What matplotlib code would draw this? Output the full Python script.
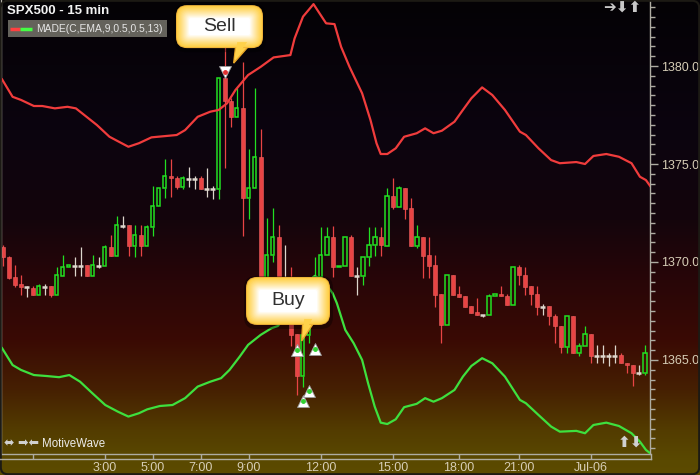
import numpy as np
import pandas as pd
import matplotlib
matplotlib.use("Agg")
import matplotlib.pyplot as plt
from matplotlib.patches import FancyBboxPatch, Polygon, Rectangle
from matplotlib.ticker import MultipleLocator

plt.rcParams['font.family'] = ['Liberation Sans', 'DejaVu Sans']

# 15 min bars, SPX500
opens = [1370.77, 1370.26, 1369.23, 1368.88, 1368.74, 1368.67, 1368.33, 1368.74, 1368.78, 1368.33,
         1369.30, 1369.73, 1369.81, 1369.81, 1369.83, 1369.30, 1369.81, 1369.81, 1370.75, 1370.32,
         1371.84, 1371.87, 1370.83, 1371.36, 1370.83, 1371.77, 1372.84, 1373.76, 1374.37, 1374.27,
         1373.83, 1374.23, 1374.23, 1374.27, 1373.72, 1373.72, 1373.74, 1379.37, 1378.23, 1377.38,
         1377.84, 1373.25, 1373.76, 1375.34, 1368.06, 1370.34, 1371.28, 1368.06, 1367.81, 1366.33,
         1364.20, 1366.28, 1367.55, 1369.23, 1370.34, 1371.26, 1369.73, 1369.81, 1371.28, 1369.30,
         1369.30, 1370.24, 1370.85, 1371.26, 1370.83, 1373.35, 1372.82, 1373.76, 1372.74, 1370.83,
         1371.26, 1370.34, 1369.83, 1368.35, 1366.80, 1369.32, 1368.35, 1368.25, 1367.74, 1367.43,
         1367.31, 1367.31, 1368.25, 1368.35, 1368.25, 1367.82, 1369.73, 1369.32, 1368.76, 1368.37,
         1367.70, 1367.74, 1367.23, 1366.73, 1365.65, 1367.23, 1365.34, 1365.73, 1366.31, 1365.22,
         1365.22, 1365.22, 1365.22, 1365.24, 1364.83, 1364.73, 1364.32, 1364.32]
highs = [1370.87, 1370.30, 1369.85, 1369.34, 1368.78, 1368.78, 1368.88, 1368.88, 1368.78, 1369.76,
         1370.36, 1369.83, 1370.26, 1370.77, 1369.83, 1370.36, 1370.26, 1370.87, 1371.38, 1372.35,
         1372.35, 1371.87, 1371.87, 1371.87, 1371.87, 1373.86, 1373.76, 1375.26, 1375.26, 1374.37,
         1374.37, 1374.85, 1374.37, 1374.37, 1374.78, 1373.86, 1379.37, 1381.00, 1378.35, 1378.86,
         1380.20, 1375.75, 1378.86, 1376.79, 1372.24, 1372.76, 1371.89, 1370.87, 1369.76, 1366.33,
         1366.28, 1367.55, 1370.26, 1371.79, 1371.79, 1371.85, 1369.81, 1371.28, 1371.38, 1369.74,
         1370.24, 1371.79, 1371.79, 1371.79, 1373.78, 1374.29, 1373.88, 1373.76, 1373.27, 1371.89,
         1371.26, 1371.26, 1370.34, 1368.35, 1369.32, 1369.32, 1368.78, 1368.25, 1367.74, 1368.16,
         1367.31, 1368.35, 1368.35, 1368.78, 1368.35, 1369.73, 1369.83, 1369.73, 1368.76, 1368.78,
         1367.86, 1367.74, 1367.35, 1366.73, 1367.23, 1367.23, 1365.85, 1366.73, 1366.31, 1365.75,
         1365.75, 1365.34, 1365.75, 1365.34, 1364.83, 1364.73, 1364.73, 1365.75]
lows = [1369.80, 1369.15, 1368.72, 1368.32, 1368.23, 1368.33, 1368.33, 1368.33, 1368.23, 1368.33,
        1369.30, 1369.73, 1369.30, 1369.30, 1369.30, 1369.30, 1369.71, 1369.81, 1370.32, 1370.32,
        1371.73, 1370.32, 1370.24, 1370.32, 1370.83, 1371.34, 1372.84, 1373.25, 1373.33, 1373.72,
        1373.72, 1373.83, 1373.72, 1373.72, 1373.32, 1373.21, 1373.21, 1374.81, 1376.87, 1377.38,
        1371.34, 1372.21, 1373.76, 1367.81, 1367.81, 1370.00, 1368.32, 1367.55, 1365.71, 1363.21,
        1363.62, 1365.85, 1367.55, 1369.23, 1370.34, 1369.22, 1369.73, 1369.81, 1369.30, 1368.32,
        1368.83, 1369.81, 1370.32, 1370.32, 1370.83, 1372.72, 1372.82, 1372.21, 1370.83, 1370.73,
        1369.20, 1369.20, 1367.72, 1365.85, 1366.80, 1368.32, 1368.21, 1367.72, 1367.41, 1367.31,
        1367.21, 1367.31, 1368.25, 1368.25, 1367.82, 1367.82, 1368.83, 1368.32, 1367.81, 1367.30,
        1367.30, 1366.79, 1365.85, 1365.34, 1365.34, 1365.34, 1365.22, 1365.73, 1364.83, 1364.83,
        1364.83, 1364.71, 1364.83, 1364.83, 1364.32, 1363.69, 1364.22, 1364.22]
closes = [1370.24, 1369.20, 1368.83, 1368.74, 1368.74, 1368.33, 1368.78, 1368.74, 1368.33, 1369.32,
          1369.73, 1369.83, 1369.81, 1369.81, 1369.30, 1369.83, 1369.81, 1370.75, 1370.32, 1371.87,
          1371.84, 1370.83, 1371.36, 1370.83, 1371.77, 1372.84, 1373.76, 1374.37, 1374.27, 1373.83,
          1374.27, 1374.23, 1374.23, 1373.72, 1373.72, 1373.72, 1379.37, 1378.23, 1377.38, 1377.84,
          1373.25, 1373.76, 1375.34, 1368.06, 1370.34, 1371.28, 1368.57, 1368.06, 1366.28, 1364.20,
          1366.28, 1367.55, 1369.23, 1370.34, 1371.28, 1369.73, 1369.81, 1371.28, 1369.30, 1369.30,
          1370.24, 1370.85, 1371.26, 1370.85, 1373.35, 1372.82, 1373.76, 1372.72, 1370.83, 1371.26,
          1370.32, 1369.81, 1368.32, 1366.80, 1369.32, 1368.32, 1368.21, 1367.72, 1367.41, 1367.31,
          1367.31, 1368.25, 1368.35, 1368.25, 1367.82, 1369.73, 1369.32, 1368.74, 1368.35, 1367.72,
          1367.70, 1367.23, 1366.73, 1365.65, 1367.23, 1365.34, 1365.73, 1366.31, 1365.22, 1365.22,
          1365.22, 1365.22, 1365.22, 1364.83, 1364.73, 1364.32, 1364.32, 1365.34]

# MADE envelope (upper / lower)
upper_x = [-0.1, 1.65, 3.05, 5.2, 6.6, 8.7, 10.8, 12.2, 13.6, 15.7, 17.8, 20.95, 22.7, 24.8, 29.0,
           30.4, 32.5, 34.6, 36.0, 37.4, 38.8, 40.9, 43.0, 45.15, 47.95, 48.65, 50.05, 51.8, 53.9,
           55.3, 56.4, 57.8, 59.9, 61.3, 62.3, 63.0, 64.1, 65.5, 66.9, 69.0, 70.4, 71.8, 73.2, 75.3,
           76.7, 78.1, 79.9, 81.6, 83.7, 86.2, 87.2, 89.3, 91.4, 92.85, 95.6, 97.05, 98.45, 100.6,
           102.7, 104.8, 106.2, 107.2, 107.9]
upper_band = [1379.32, 1378.43, 1378.27, 1377.96, 1377.96, 1377.84, 1377.92, 1377.84, 1377.50,
              1376.99, 1376.39, 1375.88, 1376.06, 1376.36, 1376.48, 1376.73, 1377.41, 1377.67,
              1377.76, 1378.10, 1378.78, 1379.54, 1379.96, 1380.44, 1380.56, 1381.41, 1382.52,
              1383.16, 1382.18, 1382.14, 1380.98, 1379.96, 1378.61, 1377.24, 1376.06, 1375.51,
              1375.51, 1375.80, 1376.39, 1376.57, 1376.82, 1376.57, 1376.70, 1377.16, 1377.76,
              1378.35, 1378.91, 1378.52, 1377.76, 1376.65, 1376.48, 1375.80, 1375.20, 1375.04,
              1375.10, 1375.00, 1375.41, 1375.51, 1375.37, 1375.04, 1374.35, 1374.18, 1373.88]
lower_x = [-0.1, 1.65, 3.05, 5.2, 7.3, 9.4, 11.1, 12.9, 14.95, 17.1, 19.2, 20.95, 22.7, 24.1, 26.2,
           28.3, 30.4, 32.5, 34.6, 36.4, 37.8, 39.5, 40.9, 43.0, 44.8, 45.85, 48.0, 50.5, 52.0,
           53.5, 55.0, 55.7, 57.1, 58.5, 59.9, 60.9, 62.0, 63.0, 64.1, 65.5, 66.9, 69.0, 70.4,
           71.8, 73.2, 75.3, 76.7, 78.1, 79.9, 81.6, 83.7, 86.2, 87.2, 89.3, 91.4, 92.85, 95.6,
           97.05, 98.45, 100.6, 102.7, 104.8, 106.2, 107.2, 107.9]
lower_band = [1365.60, 1364.74, 1364.49, 1364.23, 1364.18, 1364.12, 1364.23, 1363.89, 1363.30,
              1362.70, 1362.36, 1362.11, 1362.28, 1362.48, 1362.65, 1362.70, 1363.05, 1363.64,
              1363.89, 1364.07, 1364.49, 1365.17, 1365.77, 1366.28, 1366.62, 1366.73, 1367.55,
              1368.83, 1369.29, 1369.03, 1368.40, 1367.89, 1366.53, 1365.85, 1365.00, 1363.81,
              1362.62, 1361.80, 1361.73, 1361.97, 1362.59, 1362.76, 1363.05, 1362.87, 1363.05,
              1363.47, 1364.15, 1364.69, 1365.09, 1364.83, 1364.15, 1362.96, 1362.79, 1362.19,
              1361.60, 1361.34, 1361.38, 1361.26, 1361.68, 1361.80, 1361.63, 1361.26, 1360.83,
              1360.41, 1360.24]

# signals
sell_idx = [37]
sell_price = [1379.69]
buy_idx = [49, 50, 51, 52]
buy_price = [1365.51, 1362.92, 1363.42, 1365.58]

time_ticks = [5, 17, 25, 33, 41, 53, 65, 76, 86, 98]
time_labels = ["", "3:00", "5:00", "7:00", "9:00", "12:00", "15:00", "18:00", "21:00", "Jul-06"]
price_ticks = [1365, 1370, 1375, 1380]

RED = "#e84444"
GREEN = "#22e022"
DOJI = "#ddd6cc"
AXCOL = "#aeaca2"
LBL = "#d6cdb6"

bars = pd.DataFrame({"open": opens, "high": highs, "low": lows, "close": closes})
bars["idx"] = np.arange(len(bars))

W, H = 700, 475
fig = plt.figure(figsize=(7, 4.75), dpi=100)

# background gradient (black -> dark red -> olive)
stop_y = [0, 130, 220, 280, 340, 390, 430, 460, 475]
stop_rgb = np.array([[4, 2, 5], [11, 4, 15], [20, 5, 12], [40, 6, 8], [58, 10, 4],
                     [70, 32, 2], [83, 60, 0], [90, 73, 0], [92, 75, 0]]) / 255
yy = np.arange(H) + 0.5
grad = np.stack([np.interp(yy, stop_y, stop_rgb[:, k]) for k in range(3)], axis=1)
bg = fig.add_axes([0, 0, 1, 1])
bg.imshow(np.repeat(grad[:, None, :], 2, axis=1), aspect="auto", extent=[0, W, H, 0])
bg.axis("off")
bg.set_zorder(-5)

ax = fig.add_axes([1 / W, 21 / H, 649 / W, 454 / H])
ax.set_facecolor("none")
ax.set_xlim(-0.28, 107.88)
ax.set_ylim(1360.2, 1383.37)

up = bars[bars.close > bars.open]
down = bars[bars.close < bars.open]
doji = bars[bars.close == bars.open]

ax.vlines(down.idx, down.low, down.high, color=RED, lw=0.9, zorder=2)
ax.bar(down.idx, down.open - down.close, bottom=down.close, width=0.72,
       color=RED, edgecolor="#f06060", lw=0.4, zorder=2)
ax.vlines(up.idx, up.low, up.open, color=GREEN, lw=0.9, zorder=2)
ax.vlines(up.idx, up.close, up.high, color=GREEN, lw=0.9, zorder=2)
ax.bar(up.idx, up.close - up.open, bottom=up.open, width=0.6,
       facecolor="none", edgecolor=GREEN, lw=1.1, zorder=2)
ax.vlines(doji.idx, doji.low, doji.high, color=DOJI, lw=0.9, zorder=2)
ax.hlines(doji.close, doji.idx - 0.38, doji.idx + 0.38, color=DOJI, lw=1.8, zorder=2)

ax.plot(upper_x, upper_band, color="#f03c3c", lw=1.6, zorder=3)
ax.plot(lower_x, lower_band, color="#3ee03e", lw=1.6, zorder=3)

ax.plot(sell_idx, sell_price, "v", ms=8, mfc="white", mec="#9a9a9a", mew=0.6, zorder=5)
ax.plot(sell_idx, sell_price, "o", ms=2.5, color="#e03030", zorder=6)
ax.plot(buy_idx, buy_price, "^", ms=8, mfc="white", mec="#9a9a9a", mew=0.6, zorder=5)
ax.plot(buy_idx, buy_price, "o", ms=2.5, color="#30d030", zorder=6)

# axes styling
ax.spines["top"].set_visible(False)
for s in ["left", "right", "bottom"]:
    ax.spines[s].set_color(AXCOL)
    ax.spines[s].set_linewidth(1)
ax.yaxis.tick_right()
ax.set_yticks(price_ticks)
ax.set_yticklabels([f"{p:.1f}" for p in price_ticks])
ax.yaxis.set_minor_locator(MultipleLocator(0.5))
ax.tick_params(axis="y", which="major", length=6, width=1, color=AXCOL,
               labelcolor=LBL, labelsize=9, pad=2, right=True, left=False)
ax.tick_params(axis="y", which="minor", length=3.5, width=1, color=AXCOL, right=True, left=False)
ax.set_xticks(time_ticks)
ax.set_xticklabels(time_labels)
ax.tick_params(axis="x", length=3.5, width=1, color=AXCOL, labelcolor=LBL, labelsize=9, pad=2)

# overlay in pixel coords for labels and callouts
ov = fig.add_axes([0, 0, 1, 1])
ov.set_xlim(0, W)
ov.set_ylim(H, 0)
ov.axis("off")
ov.set_zorder(10)
ov.patch.set_alpha(0)

ov.plot([0, 651], [458.5, 458.5], color=AXCOL, lw=1)
ov.plot([650.5, 650.5], [454, 458.5], color=AXCOL, lw=1)
ov.add_patch(FancyBboxPatch((0.8, 0.8), W - 1.6, H - 1.6, boxstyle="round,pad=0,rounding_size=7",
                            facecolor="none", edgecolor="#1c1a14", lw=1.5))

ov.text(7, 11.5, "SPX500 - 15 min", fontsize=9.5, fontweight="bold", color="#f2f2f2", va="center")
ov.add_patch(Rectangle((7.5, 20), 159, 17, facecolor="#64625b", edgecolor="none"))
ov.plot([10, 20], [28.5, 28.5], color="#ff4040", lw=2.5, solid_capstyle="butt")
ov.plot([20, 32], [28.5, 28.5], color="#44ff44", lw=2.5, solid_capstyle="butt")
ov.text(36, 28.8, "MADE(C,EMA,9,0.5,0.5,13)", fontsize=7.4, color="#e6e6e6", va="center")

ov.text(603, 8, "➔⬇⬆", fontsize=11, color="#c8c8c8", va="center", fontweight="bold")
ov.text(618, 443, "⬆⬇", fontsize=11, color="#d0d0d0", va="center", fontweight="bold")
ov.text(4, 444, "⬌ ➡⬅", fontsize=9, color="#d0d0d0", va="center")
ov.text(42, 444, "MotiveWave", fontsize=8.3, color="#ececec", va="center")


def to_px(x, y):
    d = ax.transData.transform((x, y))
    return d[0], H - d[1]


def callout(anchor, box, tail, label):
    mx, my = anchor
    x0, y0, w, h = mx + box[0], my + box[1], box[2], box[3]
    ov.add_patch(FancyBboxPatch((x0 - 2, y0 - 1), w + 5, h + 5,
                                boxstyle="round,pad=0,rounding_size=12",
                                facecolor="black", edgecolor="none", alpha=0.35))
    ov.add_patch(Polygon([(mx + tail[0], y0 + h - 2), (mx + tail[1], y0 + h - 2),
                          (mx + tail[2], my + tail[3])],
                         closed=True, facecolor="#ffd24a", edgecolor="#eaa828", lw=1))
    ov.add_patch(FancyBboxPatch((x0, y0), w, h, boxstyle="round,pad=0,rounding_size=11",
                                facecolor="#f0b43a", edgecolor="none"))
    n = 13
    for s in range(1, n + 1):
        t = (s / n) ** 1.1
        col = (1.0, (205 + 50 * t) / 255, (60 + 195 * t) / 255)
        ov.add_patch(FancyBboxPatch((x0 + s, y0 + s), w - 2 * s, h - 2 * s,
                                    boxstyle=f"round,pad=0,rounding_size={max(11 - 0.7 * s, 2)}",
                                    facecolor=col, edgecolor="none"))
    ov.add_patch(Polygon([(mx + tail[0] + 1.5, y0 + h - 6), (mx + tail[1] - 1.5, y0 + h - 6),
                          (mx + tail[2] + 0.5, my + tail[3] - 3)],
                         closed=True, facecolor="#ffd24a", edgecolor="none"))
    ov.text(x0 + w / 2, y0 + h / 2, label, fontsize=14, color="#303030", ha="center", va="center")


callout(to_px(sell_idx[0], sell_price[0]), (-48.7, -67, 87, 43), (11, 24, 9, -9), "Sell")
callout(to_px(buy_idx[0], buy_price[0]), (-50.7, -73, 84, 48), (6, 17, 5, -9), "Buy")

fig.savefig("out.png", dpi=100)
